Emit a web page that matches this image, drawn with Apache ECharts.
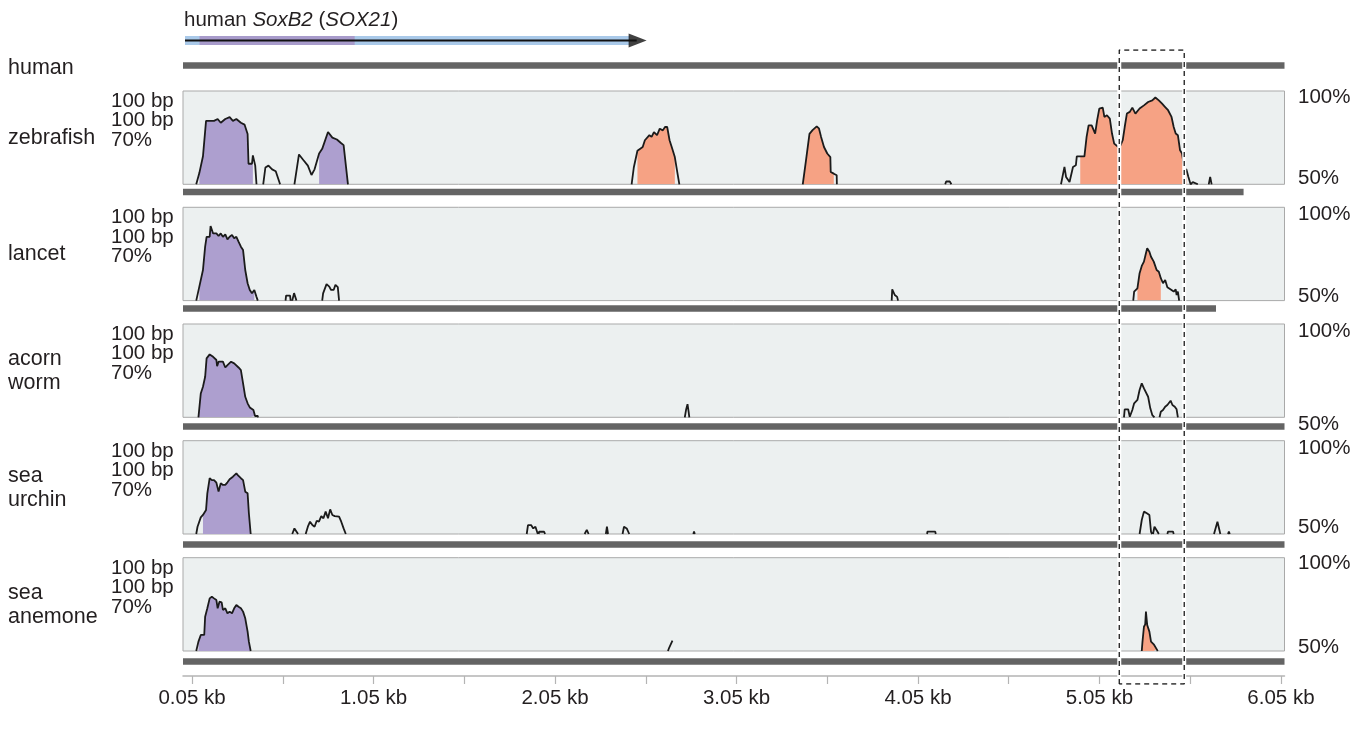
<!DOCTYPE html>
<html><head><meta charset="utf-8">
<script src="https://cdn.jsdelivr.net/npm/echarts@6/dist/echarts.min.js"></script>
<style>html,body{margin:0;padding:0;background:#fff}#c{width:1366px;height:731px}</style>
</head><body><div id="c"></div><script>
// ---------- DATA ----------
const speciesLabels = ['zebrafish', 'lancet', 'acorn\nworm', 'sea\nurchin', 'sea\nanemone'];
const geneTitle = 'human {i|SoxB2} ({i|SOX21})';
const referenceLabel = 'human';
const leftScaleLabels = '100 bp\n100 bp\n70%';
const rightTopLabel = '100%';
const rightBottomLabel = '50%';

// gene model (kb)
const geneLine = [0.011, 2.50];
const geneUtrBand = [0.011, 2.462];
const geneCodingBand = [0.091, 0.946];
const geneArrowHead = 2.505;

// alignment extents (kb)
const humanEnd = 6.0695;
const alignEnd = [5.844, 5.692, 6.0695, 6.0695, 6.0695];

// highlighted region (kb)
const highlight = [5.159, 5.517];

// x axis
const xMax = 6.0695;
const tickValues = [0.05,0.55,1.05,1.55,2.05,2.55,3.05,3.55,4.05,4.55,5.05,5.55,6.05];
const labelValues = [0.05,1.05,2.05,3.05,4.05,5.05,6.05];

// conservation curves: [kb, % identity], null = gap
const zebrafish = [
 [0.073,50],[0.09,56],[0.11,65],[0.127,84],[0.147,84],[0.171,84],[0.191,85],[0.208,83],[0.233,85],[0.257,86],[0.275,84],[0.294,85],[0.319,83],[0.339,82],[0.356,77],[0.361,61],[0.38,61],[0.385,65.5],[0.398,60],[0.405,50], null,
 [0.442,50],[0.454,59],[0.471,60],[0.491,58],[0.511,57],[0.535,50], null,
 [0.614,50],[0.639,66],[0.663,63],[0.688,60],[0.708,55],[0.725,58],[0.75,66.5],[0.767,69],[0.799,78],[0.823,75],[0.848,74],[0.872,72],[0.885,71],[0.909,50], null,
 [2.472,50],[2.484,59],[2.504,68],[2.533,70],[2.545,73.6],[2.57,76.3],[2.582,75.4],[2.595,78],[2.612,76.3],[2.627,79.8],[2.644,78.9],[2.656,80.7],[2.668,80.7],[2.681,73.6],[2.693,70],[2.71,64.6],[2.725,55.7],[2.735,50], null,
 [3.415,50],[3.433,63],[3.452,77],[3.469,79],[3.492,81],[3.504,80],[3.516,75.4],[3.532,70],[3.55,66.5],[3.567,64.6],[3.569,56.6],[3.586,55.7],[3.602,54.8],[3.603,50], null,
 [4.2,50],[4.205,51.5],[4.215,52],[4.225,51.5],[4.234,50], null,
 [4.838,50],[4.857,59.3],[4.866,53.9],[4.885,51.2],[4.904,59.3],[4.92,60.2],[4.925,65],[4.944,65],[4.967,65],[4.979,75.4],[4.99,81.6],[5.007,81.6],[5.026,77.2],[5.037,84.3],[5.049,90.6],[5.068,91.1],[5.077,86.1],[5.091,87],[5.107,85.2],[5.119,77.2],[5.131,71.8],[5.154,70],[5.166,70.9],[5.178,73.6],[5.189,80.7],[5.201,87.9],[5.217,88.8],[5.231,91.1],[5.248,87.9],[5.259,88.8],[5.271,90.6],[5.295,92.3],[5.318,94.1],[5.341,95],[5.358,96.5],[5.377,95],[5.395,93.2],[5.412,91.4],[5.428,89.7],[5.447,86.1],[5.459,80.7],[5.47,77.2],[5.482,76.3],[5.494,68.2],[5.505,66.5],[5.517,58.4],[5.529,57.9],[5.54,53.9],[5.552,50],[5.564,51.2],[5.575,52.1],[5.592,50], null,
 [5.652,50],[5.66,54],[5.668,50]
];
const zebrafishFills = [[0.09,0.385,'cds'],[0.75,0.909,'cds'],[2.504,2.71,'cns'],[3.415,3.586,'cns'],[4.944,5.529,'cns']];

const lancet = [
 [0.073,50],[0.09,57.5],[0.11,66.4],[0.122,78.9],[0.13,84.2],[0.147,84.2],[0.152,90],[0.159,89.5],[0.166,86],[0.184,86],[0.196,84.6],[0.208,86],[0.22,84.2],[0.233,85.5],[0.245,82.8],[0.257,84.2],[0.27,85.2],[0.282,83.4],[0.294,84.2],[0.306,81.6],[0.319,78.9],[0.331,77.1],[0.343,66.4],[0.356,59.3],[0.368,55.7],[0.38,53.9],[0.393,55.7],[0.405,52],[0.412,50], null,
 [0.565,50],[0.568,52.7],[0.59,52.7],[0.593,50], null,
 [0.602,50],[0.612,54],[0.625,50], null,
 [0.767,50],[0.772,53.9],[0.791,58.8],[0.806,57.5],[0.816,55.7],[0.83,55.7],[0.84,58.4],[0.853,57.2],[0.86,50], null,
 [3.905,50],[3.908,56],[3.918,56],[3.922,53],[3.935,52],[3.94,50], null,
 [5.236,50],[5.241,54.8],[5.259,56.6],[5.271,64.7],[5.283,68.6],[5.295,70.9],[5.306,75.4],[5.313,78],[5.325,76.2],[5.334,73.5],[5.349,70.9],[5.358,71.8],[5.365,66.4],[5.377,65.5],[5.388,62],[5.4,59.3],[5.412,61],[5.424,57.2],[5.435,58],[5.447,55.7],[5.459,54.8],[5.47,56],[5.475,53],[5.482,54.8],[5.489,50]
];
const lancetFills = [[0.09,0.393,'cds'],[5.259,5.388,'cns']];

const acornWorm = [
 [0.085,50],[0.098,62.8],[0.11,66.4],[0.122,71.7],[0.13,81.6],[0.147,83.7],[0.166,82.4],[0.184,80.7],[0.188,77.4],[0.196,79.8],[0.22,79.8],[0.233,76.7],[0.245,78],[0.265,79.8],[0.282,78.9],[0.306,76.7],[0.319,75.3],[0.331,68.2],[0.343,61],[0.356,57.5],[0.368,55.3],[0.388,53.9],[0.397,50.7],[0.412,50.7],[0.413,50], null,
 [2.765,50],[2.772,54],[2.78,57],[2.786,53],[2.79,50], null,
 [5.185,50],[5.189,54.3],[5.208,54.3],[5.217,50.3],[5.231,53.9],[5.241,57.5],[5.259,59.3],[5.271,64.6],[5.283,68.2],[5.295,65.5],[5.306,65],[5.318,61],[5.33,54.8],[5.341,51.2],[5.353,50], null,
 [5.381,50],[5.388,53],[5.4,53.9],[5.412,55.7],[5.424,56.6],[5.442,58.9],[5.452,56.6],[5.465,55.7],[5.475,54.3],[5.482,50]
];
const acornWormFills = [[0.085,0.397,'cds']];

const seaUrchin = [
 [0.073,50],[0.08,53.9],[0.098,58.9],[0.11,60.2],[0.127,62.9],[0.134,71.8],[0.147,79.9],[0.159,78.9],[0.171,78.9],[0.184,77.5],[0.196,72.7],[0.208,77.2],[0.22,76.3],[0.233,76.3],[0.245,77.7],[0.257,79.3],[0.275,80.7],[0.294,82.5],[0.306,81.1],[0.319,79.9],[0.331,78.9],[0.343,72.7],[0.356,71.8],[0.363,61.1],[0.373,50], null,
 [0.602,50],[0.614,53],[0.634,50], null,
 [0.676,50],[0.688,53.9],[0.7,56.6],[0.713,54.8],[0.725,53.9],[0.737,57.1],[0.749,56.6],[0.762,59.6],[0.774,58.4],[0.786,62],[0.799,58.4],[0.811,63.2],[0.823,60.2],[0.836,59.6],[0.86,59.3],[0.872,56.6],[0.885,53],[0.897,50], null,
 [1.894,50],[1.901,54.8],[1.918,54.8],[1.93,53],[1.942,53.9],[1.955,50], null,
 [1.96,50],[1.962,51.2],[1.99,51.2],[1.995,50], null,
 [2.213,50],[2.225,52.2],[2.235,50], null,
 [2.33,50],[2.336,53.9],[2.342,50], null,
 [2.422,50],[2.43,53.9],[2.445,53],[2.459,50], null,
 [2.812,50],[2.816,51.3],[2.82,50], null,
 [4.1,50],[4.102,51.3],[4.145,51.3],[4.148,50], null,
 [5.271,50],[5.283,57.5],[5.295,62],[5.302,62.9],[5.311,61.1],[5.325,60.2],[5.334,51.2],[5.34,50], null,
 [5.345,50],[5.353,53.9],[5.362,53],[5.37,51.2],[5.377,50], null,
 [5.424,50],[5.428,51.3],[5.455,51.3],[5.459,50], null,
 [5.681,50],[5.7,56.6],[5.716,50], null,
 [5.758,50],[5.763,51.3],[5.768,50]
];
const seaUrchinFills = [[0.11,0.373,'cds']];

const seaAnemone = [
 [0.073,50],[0.085,55],[0.098,58.6],[0.117,58.6],[0.122,68.4],[0.134,72.9],[0.147,78.2],[0.159,79.1],[0.171,78.2],[0.184,77.3],[0.191,72.9],[0.201,76.4],[0.213,76.1],[0.22,72],[0.233,72.9],[0.245,70.2],[0.257,71.1],[0.27,70.2],[0.282,72.9],[0.294,74.7],[0.306,73.7],[0.319,72.9],[0.331,71.1],[0.343,67.5],[0.356,60.4],[0.363,55],[0.373,50], null,
 [2.672,50],[2.68,52],[2.697,55.5], null,
 [5.283,50],[5.287,55],[5.295,63],[5.302,64.3],[5.306,71.1],[5.311,71.1],[5.313,63.9],[5.325,60.4],[5.334,55],[5.349,53.6],[5.365,51],[5.371,50]
];
const seaAnemoneFills = [[0.085,0.373,'cds'],[5.283,5.371,'cns']];

const curves = [zebrafish, lancet, acornWorm, seaUrchin, seaAnemone];
const fills = [zebrafishFills, lancetFills, acornWormFills, seaUrchinFills, seaAnemoneFills];

// ---------- STYLE / LAYOUT ----------
const FONT = '"Liberation Sans", Arial, sans-serif';
const FS = 20.5;
const FS_NAME = 21.5;
const TXT = '#231f20';
const C = { cds: '#ad9fcf', cns: '#f6a284', bg: '#ecf0f0', border: '#a9a9a9', bar: '#646464',
            line: '#1b1b1b', utr: '#a9c9e9', coding: '#a89bcb', axis: '#b4b4b4' };
const LEFT = 183, RIGHT = 81.5;
const panelTops = [91, 207.3, 324, 440.7, 557.7];
const PANEL_H = 93.3;
const barCenters = [192, 308.5, 426.5, 544.5, 661.5];
const topLabelDy = [6, 7, 7, 8, 6];
const bottomLabelDy = [-6, -4, 7, -7, -4];

const grids = [], xAxes = [], yAxes = [], series = [], graphics = [];
function addGrid(g, ymin, ymax) {
  grids.push(Object.assign({ left: LEFT, right: RIGHT, containLabel: false }, g));
  const i = grids.length - 1;
  xAxes.push({ gridIndex: i, type: 'value', min: 0, max: xMax, show: false });
  yAxes.push({ gridIndex: i, type: 'value', min: ymin, max: ymax, show: false });
  return i;
}
const hline = (gi, a, b, width, color, z) => ({
  type: 'line', xAxisIndex: gi, yAxisIndex: gi, data: [[a, 0], [b, 0]], symbol: 'none', silent: true,
  lineStyle: { width, color, cap: 'butt' }, z: z || 2, animation: false
});

// gene track
const gGene = addGrid({ top: 33, height: 15 }, -1, 1);
series.push(hline(gGene, geneUtrBand[0], geneUtrBand[1], 9, C.utr, 2));
series.push(hline(gGene, geneCodingBand[0], geneCodingBand[1], 9, C.coding, 3));
series.push(hline(gGene, geneLine[0], geneLine[1], 2.2, '#111', 4));
series.push({ type: 'scatter', xAxisIndex: gGene, yAxisIndex: gGene, data: [[geneArrowHead, 0]], symbol: 'triangle',
  symbolSize: [14, 18], symbolRotate: -90, itemStyle: { color: '#111' }, silent: true, z: 5, animation: false });

// human reference bar
const gHuman = addGrid({ top: 62, height: 7 }, -1, 1);
series.push(hline(gHuman, 0, humanEnd, 6.5, C.bar));

const toData = arr => arr.map(p => p ? p : ['-', '-']);

curves.forEach((curve, k) => {
  const gp = addGrid({ top: panelTops[k], height: PANEL_H, show: true, backgroundColor: C.bg,
                       borderColor: C.border, borderWidth: 1 }, 50, 100);
  fills[k].forEach(([a, b, kind]) => {
    series.push({ type: 'line', xAxisIndex: gp, yAxisIndex: gp, symbol: 'none', silent: true, animation: false,
      data: curve.filter(p => p && p[0] >= a && p[0] <= b),
      lineStyle: { width: 0 }, areaStyle: { color: C[kind], opacity: 1, origin: 'start' }, z: 2 });
  });
  series.push({ type: 'line', xAxisIndex: gp, yAxisIndex: gp, symbol: 'none', silent: true, animation: false,
    data: toData(curve), connectNulls: false, lineStyle: { width: 1.8, color: C.line }, z: 3 });
  const gb = addGrid({ top: barCenters[k] - 3.5, height: 7 }, -1, 1);
  series.push(hline(gb, 0, alignEnd[k], 6.5, C.bar));

  const top = panelTops[k], bottom = top + PANEL_H;
  graphics.push({ type: 'text', x: 8, y: top + 47, silent: true,
    style: { text: speciesLabels[k], fill: TXT, font: FS_NAME + 'px ' + FONT, verticalAlign: 'middle', lineHeight: 24 } });
  graphics.push({ type: 'text', x: 111, y: top + 0.5, silent: true,
    style: { text: leftScaleLabels, fill: TXT, font: FS + 'px ' + FONT, verticalAlign: 'top', lineHeight: 19.5 } });
  graphics.push({ type: 'text', x: 1298, y: top + topLabelDy[k], silent: true,
    style: { text: rightTopLabel, fill: TXT, font: FS + 'px ' + FONT, verticalAlign: 'middle' } });
  graphics.push({ type: 'text', x: 1298, y: bottom + bottomLabelDy[k], silent: true,
    style: { text: rightBottomLabel, fill: TXT, font: FS + 'px ' + FONT, verticalAlign: 'middle' } });
});

// x axis
const gAxis = addGrid({ top: 670, height: 6 }, 0, 1);
xAxes[gAxis] = { gridIndex: gAxis, type: 'value', min: 0, max: xMax, position: 'bottom',
  axisLine: { show: true, lineStyle: { color: C.axis, width: 1.5 } },
  axisTick: { show: true, length: 8, customValues: tickValues, lineStyle: { color: C.axis, width: 1.2 } },
  axisLabel: { show: true, customValues: labelValues, margin: 12, color: TXT, fontSize: FS, fontFamily: FONT,
    formatter: v => v.toFixed(2) + ' kb' },
  splitLine: { show: false } };

// highlight box
const gBox = addGrid({ top: 50, height: 634 }, 0, 1);
[highlight[0], highlight[1]].forEach(x => {
  series.push({ type: 'line', xAxisIndex: gBox, yAxisIndex: gBox, symbol: 'none', silent: true, animation: false,
    data: [[x, 0], [x, 1]], lineStyle: { width: 4, color: '#fff' }, z: 10 });
});
series.push({ type: 'line', xAxisIndex: gBox, yAxisIndex: gBox, symbol: 'none', silent: true, animation: false,
  data: [[highlight[0], 0], [highlight[0], 1], [highlight[1], 1], [highlight[1], 0], [highlight[0], 0]],
  lineStyle: { width: 1.3, color: '#1a1a1a', type: [5, 4] }, z: 11 });

// title & reference label
graphics.push({ type: 'text', x: 184, y: 20, silent: true,
  style: { text: geneTitle, fill: TXT, font: FS + 'px ' + FONT, verticalAlign: 'middle',
    rich: { i: { fontStyle: 'italic', fontSize: FS, fontFamily: FONT, fill: TXT } } } });
graphics.push({ type: 'text', x: 8, y: 68, silent: true,
  style: { text: referenceLabel, fill: TXT, font: FS_NAME + 'px ' + FONT, verticalAlign: 'middle' } });

const chart = echarts.init(document.getElementById('c'), null, { renderer: 'canvas' });
chart.setOption({ animation: false, backgroundColor: '#fff', grid: grids, xAxis: xAxes, yAxis: yAxes,
  series, graphic: graphics });
</script></body></html>
